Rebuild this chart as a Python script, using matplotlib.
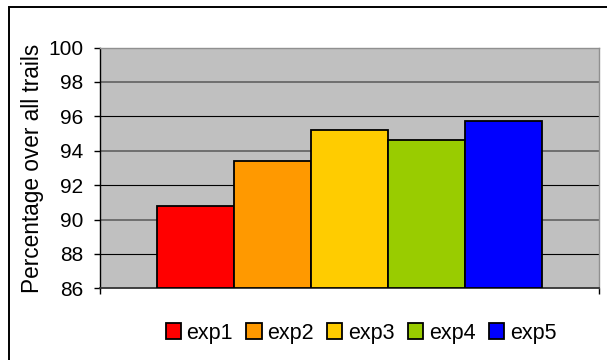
import matplotlib
matplotlib.use("Agg")
import matplotlib.pyplot as plt
from matplotlib.patches import Rectangle

plt.rcParams['font.family'] = ['Liberation Sans', 'DejaVu Sans']

# Data
series = ["exp1", "exp2", "exp3", "exp4", "exp5"]
values = [90.8, 93.4, 95.2, 94.6, 95.7]
colors = ["#FF0000", "#FF9900", "#FFCC00", "#99CC00", "#0000FF"]
yticks = [86, 88, 90, 92, 94, 96, 98, 100]
ylabel = "Percentage over all trails"

FS_TICK = 15
FS_LABEL = 16.3
FS_LEG = 15.5

fig = plt.figure(figsize=(6.07, 3.60), dpi=100)
ax = fig.add_axes([0.1647, 0.199, 0.9863 - 0.1647, 0.868 - 0.199])
ax.set_facecolor("#C0C0C0")

# Outer chart frame
fig.patches.append(Rectangle((9 / 607, -0.2), 1.2, 0.981 + 0.2,
                             transform=fig.transFigure, fill=False,
                             edgecolor="black", linewidth=1.4))

# Bars, one series per experiment, drawn side by side
positions = list(range(len(series)))
for x, v, c, name in zip(positions, values, colors, series):
    ax.bar(x, v - 86, bottom=86, width=1.0, color=c, edgecolor="black",
           linewidth=1.3, zorder=3, label=name)

ax.set_ylim(86, 100)
ax.set_xlim(-1.24, len(series) - 1 + 1.24)

# Horizontal grid lines
for i, t in enumerate(yticks[1:-1]):
    if i % 2 == 0:
        ax.axhline(t, color="black", linewidth=0.8, zorder=1)
    else:
        ax.axhline(t, color="#606060", linewidth=1.2, zorder=1)

ax.set_yticks(yticks)
ax.set_yticklabels([str(t) for t in yticks], fontsize=FS_TICK)
ax.tick_params(axis="y", direction="out", length=4, width=1.0, pad=8,
               color="black")
ax.set_xticks(list(ax.get_xlim()))
ax.set_xticklabels([])
ax.tick_params(axis="x", direction="out", length=4, width=1.0, color="black")

for side in ("top", "right"):
    ax.spines[side].set_color("#909090")
    ax.spines[side].set_linewidth(1.0)
ax.spines["left"].set_color("black")
ax.spines["left"].set_linewidth(1.0)
ax.spines["bottom"].set_color("#333333")
ax.spines["bottom"].set_linewidth(1.3)

ax.set_ylabel(ylabel, fontsize=FS_LABEL)
ax.yaxis.set_label_coords((44 - 100) / 498.7, 0.5)

leg = fig.legend(loc="center", bbox_to_anchor=(361 / 607, 1 - 333 / 360),
                 ncol=5, frameon=False, fontsize=FS_LEG,
                 handlelength=0.7, handleheight=0.7, handletextpad=0.27,
                 columnspacing=0.62, borderpad=0, borderaxespad=0)

fig.savefig("out.png", dpi=100)
